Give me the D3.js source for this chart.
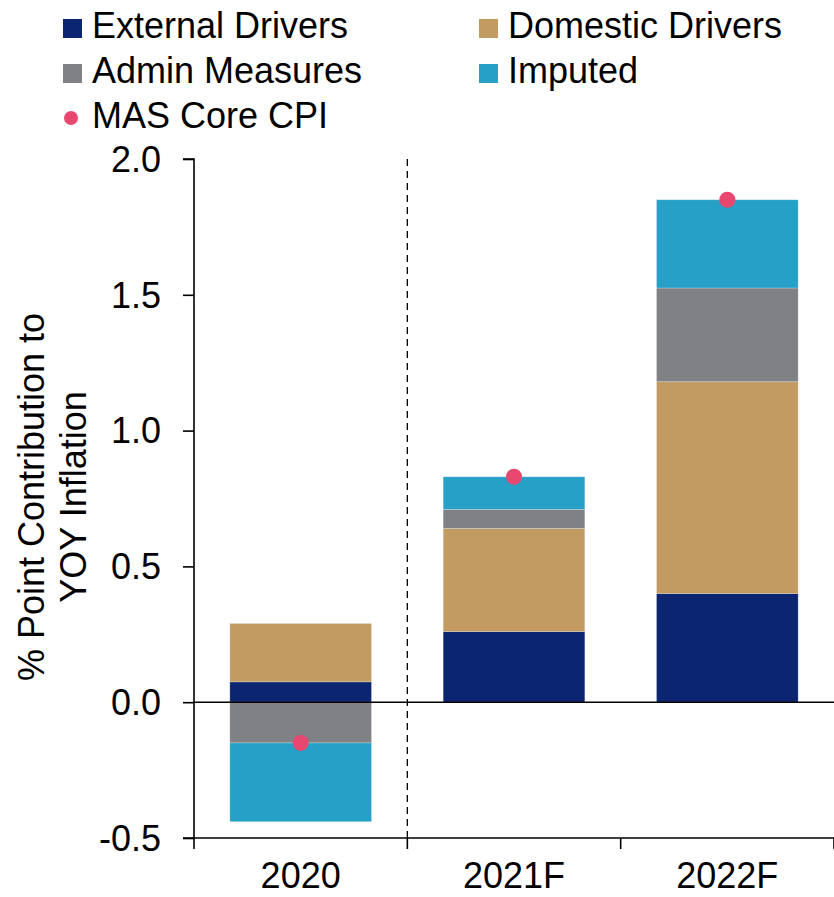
<!DOCTYPE html>
<html>
<head>
<meta charset="utf-8">
<script src="https://cdn.jsdelivr.net/npm/d3@7"></script>
<style>
  html, body { margin: 0; padding: 0; background: #fff; }
  svg { display: block; font-family: "Liberation Sans", Arial, sans-serif; }
</style>
</head>
<body>
<svg id="chart" width="834" height="897"></svg>
<script>
// Contribution to YOY core inflation, percentage points
const years = ["2020", "2021F", "2022F"];
const external = [0.075, 0.26, 0.40];
const domestic = [0.215, 0.38, 0.78];
const admin    = [-0.15, 0.07, 0.345];
const imputed  = [-0.29, 0.12, 0.325];
const coreCPI  = [-0.15, 0.83, 1.85];
const yTicks   = [-0.5, 0, 0.5, 1.0, 1.5, 2.0];

const seriesNames  = ["External Drivers", "Domestic Drivers", "Admin Measures", "Imputed"];
const seriesValues = [external, domestic, admin, imputed];
const seriesColors = ["#0b2570", "#c29b63", "#808184", "#27a0c8"];
const dotColor = "#e8476f";

const svg = d3.select("#chart");
const fontSize = 36;

const x = d3.scaleBand().domain(years).range([194, 834]).paddingInner(0.336).paddingOuter(0.168);
const y = d3.scaleLinear().domain([-0.5, 2.0]).range([838, 159]);

// Stack positives upward and negatives downward from zero
const segments = [];
years.forEach((yr, i) => {
  let pos = 0, neg = 0;
  seriesValues.forEach((vals, s) => {
    const v = vals[i];
    let y0, y1;
    if (v >= 0) { y0 = pos; y1 = pos + v; pos = y1; }
    else { y0 = neg; y1 = neg + v; neg = y1; }
    segments.push({ year: yr, s, y0, y1 });
  });
});

svg.append("g").selectAll("rect").data(segments).join("rect")
  .attr("x", d => x(d.year))
  .attr("width", x.bandwidth())
  .attr("y", d => y(Math.max(d.y0, d.y1)))
  .attr("height", d => Math.abs(y(d.y0) - y(d.y1)))
  .attr("fill", d => seriesColors[d.s])
  .attr("stroke", "rgba(255,255,255,0.3)")
  .attr("stroke-width", 0.8);

// Divider between actual and forecast years
const divX = x.step() + x.range()[0];
svg.append("line")
  .attr("x1", divX).attr("x2", divX)
  .attr("y1", y(2.0)).attr("y2", y(-0.5))
  .attr("stroke", "#000").attr("stroke-width", 1.3)
  .attr("stroke-dasharray", "7,5");

// Zero line
svg.append("line")
  .attr("x1", 194).attr("x2", 834)
  .attr("y1", y(0)).attr("y2", y(0))
  .attr("stroke", "#000").attr("stroke-width", 1.6);

// Y axis
const fmt = d => d3.format(".1f")(d).replace("\u2212", "-");
const yAxis = svg.append("g")
  .attr("transform", "translate(194,0)")
  .call(d3.axisLeft(y).tickValues(yTicks).tickFormat(fmt).tickSize(11).tickPadding(22));
yAxis.select(".domain").attr("stroke-width", 1.6).attr("d", `M-11,${y(2.0)}H0V${y(-0.5)}`);
yAxis.selectAll(".tick line").attr("stroke-width", 1.6);
yAxis.selectAll(".tick text")
  .attr("font-size", fontSize).attr("font-family", "Liberation Sans, Arial, sans-serif")
  .attr("fill", "#000").attr("dy", "0.34em");

// X axis along the bottom with ticks at band boundaries
const boundaries = d3.range(years.length + 1).map(i => x.range()[0] + i * x.step());
const xAxis = svg.append("g").attr("transform", `translate(0,${y(-0.5)})`);
xAxis.append("line").attr("x1", 183).attr("x2", 834).attr("stroke", "#000").attr("stroke-width", 1.6);
xAxis.selectAll("line.tk").data(boundaries).join("line").attr("class", "tk")
  .attr("x1", d => d).attr("x2", d => d).attr("y1", 0).attr("y2", 11)
  .attr("stroke", "#000").attr("stroke-width", 1.6);
xAxis.selectAll("text").data(years).join("text")
  .attr("x", d => x(d) + x.bandwidth() / 2)
  .attr("y", 50)
  .attr("text-anchor", "middle")
  .attr("font-size", fontSize).attr("fill", "#000")
  .text(d => d);

// Core CPI markers
svg.append("g").selectAll("circle").data(years).join("circle")
  .attr("cx", d => x(d) + x.bandwidth() / 2)
  .attr("cy", (d, i) => y(coreCPI[i]))
  .attr("r", 8)
  .attr("fill", dotColor);

// Y axis title
const title = svg.append("text")
  .attr("transform", `translate(0,497) rotate(-90)`)
  .attr("text-anchor", "middle")
  .attr("font-size", fontSize).attr("fill", "#000");
title.append("tspan").attr("x", 0).attr("y", 44).text("% Point Contribution to");
title.append("tspan").attr("x", 0).attr("y", 86).text("YOY Inflation");

// Legend
const legendItems = [
  { name: seriesNames[0], color: seriesColors[0], col: 0, row: 0, type: "rect" },
  { name: seriesNames[1], color: seriesColors[1], col: 1, row: 0, type: "rect" },
  { name: seriesNames[2], color: seriesColors[2], col: 0, row: 1, type: "rect" },
  { name: seriesNames[3], color: seriesColors[3], col: 1, row: 1, type: "rect" },
  { name: "MAS Core CPI", color: dotColor, col: 0, row: 2, type: "circle" }
];
const colX = [63, 479];
const legend = svg.append("g");
legendItems.forEach(it => {
  const lx = colX[it.col], base = 38 + it.row * 45;
  if (it.type === "rect") {
    legend.append("rect").attr("x", lx).attr("y", base - 19).attr("width", 19).attr("height", 19).attr("fill", it.color);
  } else {
    legend.append("circle").attr("cx", lx + 8).attr("cy", base - 10).attr("r", 7).attr("fill", it.color);
  }
  legend.append("text").attr("x", lx + 29).attr("y", base)
    .attr("font-size", fontSize).attr("fill", "#000").text(it.name);
});
</script>
</body>
</html>
